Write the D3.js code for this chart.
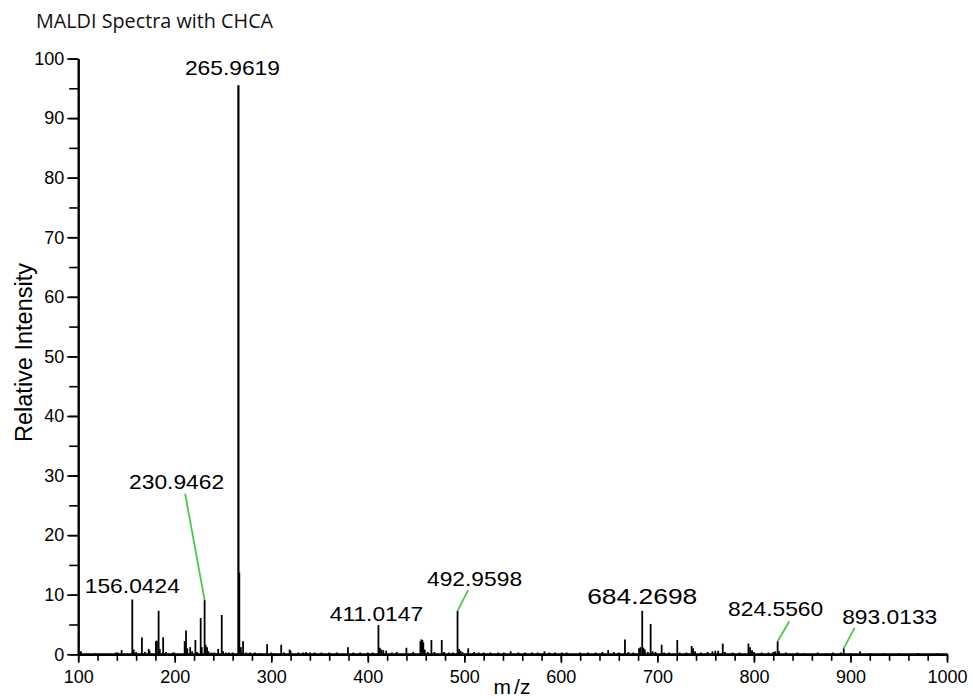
<!DOCTYPE html>
<html>
<head>
<meta charset="utf-8">
<script src="https://cdn.jsdelivr.net/npm/d3@7"></script>
<style>
  html, body { margin: 0; padding: 0; background: #fff; }
  svg { display: block; }
</style>
</head>
<body>
<svg id="chart" width="973" height="700"></svg>
<script>
// Unlabelled stick peaks (m/z, relative intensity)
const peakMz = [
  102.8, 118, 139, 141, 145, 157.5, 160, 166, 169, 173, 174, 180.5, 181.5, 183.3, 184.5, 188, 191,
  198, 199.5, 210.3, 211.7, 213, 216, 218, 221.4, 223, 226.9, 228, 232, 233.5, 235, 238, 241, 245,
  248.7, 250, 253, 256, 260, 266.9, 268.5, 270.8, 274, 278, 283, 288, 295.7, 300, 303, 310.3, 313,
  319, 320, 328, 333, 336, 340, 345, 352, 360, 368, 379.4, 385, 392, 400, 405, 412.5, 414, 416, 419,
  425, 430, 440, 447, 454.5, 455.5, 456.5, 457.5, 459, 462, 465.9, 469, 476.6, 479, 484, 488, 494.5,
  496, 498, 504, 510, 515, 520, 527, 535, 541, 548, 556, 563, 570, 576, 583, 588, 594, 601, 606, 620,
  628, 636, 643, 649, 655, 660, 666.4, 670, 675, 681, 682.5, 685.5, 687, 690, 693, 695, 698, 704.4,
  707, 712, 720.6, 723, 730, 735.5, 737, 739, 745, 752, 757, 760, 763, 767.7, 770, 778, 785, 794.3,
  796, 798, 800, 808, 815, 820, 822, 826, 833, 845, 852, 866, 875, 882, 890, 900, 910, 920, 935, 950,
  970, 990
];
const peakIntensity = [
  0.5, 0.2, 0.3, 0.3, 0.7, 0.8, 0.4, 2.8, 0.4, 0.9, 0.6, 2.2, 2.3, 7.3, 0.9, 2.85, 0.4,
  0.3, 0.3, 2.2, 4.0, 1.0, 1.2, 0.5, 2.4, 0.4, 6.1, 1.2, 1.6, 1.2, 0.5, 0.3, 0.3, 0.9,
  6.6, 0.5, 0.3, 0.3, 0.3, 13.7, 1.2, 2.2, 0.3, 0.3, 0.3, 0.2, 1.7, 0.3, 0.2, 1.6, 0.3,
  0.8, 0.6, 0.3, 0.3, 0.4, 0.3, 0.3, 0.3, 0.3, 0.3, 1.2, 0.3, 0.3, 0.3, 0.3, 1.1, 0.8, 0.7, 0.6,
  0.3, 0.4, 1.1, 0.4, 2.2, 2.5, 2.4, 2.0, 0.8, 0.4, 2.4, 0.4, 2.4, 0.4, 0.3, 0.3, 0.9,
  0.6, 0.4, 1.0, 0.4, 0.3, 0.3, 0.3, 0.3, 0.3, 0.5, 0.3, 0.3, 0.3, 0.3, 0.5, 0.3, 0.3, 0.3, 0.3, 0.3,
  0.3, 0.3, 0.4, 0.7, 0.4, 0.3, 2.5, 0.4, 0.3, 1.0, 1.2, 1.1, 0.8, 0.4, 5.1, 0.5, 0.4, 1.6,
  0.3, 0.3, 2.4, 0.3, 0.3, 1.4, 1.0, 0.5, 0.3, 0.4, 0.5, 0.6, 0.6, 1.8, 0.4, 0.3, 0.3, 1.8,
  1.2, 0.7, 0.4, 0.3, 0.3, 0.4, 0.5, 0.5, 0.3, 0.3, 0.2, 0.3, 0.2, 0.3, 0.3, 0.2, 0.5, 0.2, 0.2, 0.2,
  0.2, 0.2
];

// Annotated peaks: the label text is the m/z used to place the stick
const labelledMz = ["156.0424", "230.9462", "265.9619", "411.0147", "492.9598", "684.2698", "824.5560", "893.0133"];
const labelledIntensity = [9.2, 9.1, 95.5, 4.9, 7.3, 7.3, 2.2, 1.0];

const xTicks = [100, 200, 300, 400, 500, 600, 700, 800, 900, 1000];
const yTicks = [0, 10, 20, 30, 40, 50, 60, 70, 80, 90, 100];

// Where each annotation sits relative to its peak top (pixels)
const labelPlacement = [
  { dx: 0,   dy: -6,   size: 20, stretch: 1.14, leader: null },
  { dx: -28, dy: -111, size: 20, stretch: 1.14, leader: [-19.5, -106.5] },
  { dx: -6,  dy: -10.5, size: 20, stretch: 1.14, leader: null },
  { dx: -2,  dy: -4,   size: 20, stretch: 1.14, leader: null },
  { dx: 17,  dy: -25,  size: 20, stretch: 1.14, leader: [10.6, -20.7] },
  { dx: 0,   dy: -6.5, size: 22, stretch: 1.2,  leader: null },
  { dx: -2,  dy: -25.3, size: 20, stretch: 1.14, leader: [11.7, -20] },
  { dx: 46,  dy: -24.3, size: 20, stretch: 1.14, leader: [11, -20.6] }
];

const svg = d3.select("#chart");
svg.append("rect").attr("width", 973).attr("height", 700).attr("fill", "#fff");

const x = d3.scaleLinear().domain([100, 1000]).range([78.2, 947]);
const y = d3.scaleLinear().domain([0, 100]).range([654.3, 58.5]);

const font = "'Liberation Sans', Arial, sans-serif";

// Title
svg.append("text")
  .attr("x", 36).attr("y", 28)
  .attr("font-family", "'Open Sans', 'Noto Sans', sans-serif")
  .attr("font-size", 19.8)
  .attr("fill", "#111")
  .text("MALDI Spectra with CHCA");

// Spectrum sticks
const sticks = peakMz.map((m, i) => ({ mz: m, v: peakIntensity[i] }))
  .concat(labelledMz.map((s, i) => ({ mz: +s, v: labelledIntensity[i] })));

svg.append("g").selectAll("line")
  .data(sticks)
  .join("line")
  .attr("x1", d => x(d.mz)).attr("x2", d => x(d.mz))
  .attr("y1", y(0)).attr("y2", d => y(d.v))
  .attr("stroke", "#000")
  .attr("stroke-width", d => d.v > 50 ? 2.2 : 1.8);

// Axes: major and minor ticks
function styleAxis(g, width) {
  g.select(".domain").attr("stroke", "#000").attr("stroke-width", width);
  g.selectAll(".tick line").attr("stroke", "#000").attr("stroke-width", 1.6);
  g.selectAll(".tick text").attr("font-family", font).attr("font-size", 18).attr("fill", "#000");
}

const xMinor = svg.append("g").attr("transform", `translate(0,${y(0)})`)
  .call(d3.axisBottom(x).tickValues(d3.range(100, 1001, 20)).tickSize(6.5).tickSizeOuter(0).tickFormat(""));
styleAxis(xMinor, 2.6);

const xMajor = svg.append("g").attr("transform", `translate(0,${y(0)})`)
  .call(d3.axisBottom(x).tickValues(xTicks).tickSize(8.5).tickPadding(7).tickSizeOuter(0).tickFormat(d3.format("d")));
styleAxis(xMajor, 2.6);

const yMinor = svg.append("g").attr("transform", `translate(${x(100)},0)`)
  .call(d3.axisLeft(y).tickValues(d3.range(0, 101, 5)).tickSize(9).tickSizeOuter(0).tickFormat(""));
styleAxis(yMinor, 2);

const yMajor = svg.append("g").attr("transform", `translate(${x(100)},0)`)
  .call(d3.axisLeft(y).tickValues(yTicks).tickSize(11).tickPadding(3).tickSizeOuter(0).tickFormat(d3.format("d")));
styleAxis(yMajor, 2);

// Axis titles
svg.append("text")
  .attr("transform", "translate(32,352.5) rotate(-90)")
  .attr("text-anchor", "middle")
  .attr("font-family", font).attr("font-size", 23.5).attr("fill", "#000")
  .text("Relative Intensity");

const mz = svg.append("text")
  .attr("x", 512).attr("y", 694)
  .attr("text-anchor", "middle")
  .attr("font-family", font).attr("font-size", 21).attr("fill", "#000");
mz.append("tspan").text("m");
mz.append("tspan").attr("dx", 3).text("/z");

// Peak annotations with green leader lines
const ann = svg.append("g");
labelledMz.forEach((s, i) => {
  const p = labelPlacement[i];
  const px = x(+s), py = y(labelledIntensity[i]);
  if (p.leader) {
    ann.append("line")
      .attr("x1", px).attr("y1", py)
      .attr("x2", px + p.leader[0]).attr("y2", py + p.leader[1])
      .attr("stroke", "#4cc94c").attr("stroke-width", 1.8);
  }
  ann.append("text")
    .attr("transform", `translate(${px + p.dx},${py + p.dy}) scale(${p.stretch},1)`)
    .attr("text-anchor", "middle")
    .attr("font-family", font).attr("font-size", p.size).attr("fill", "#000")
    .text(s);
});
</script>
</body>
</html>
